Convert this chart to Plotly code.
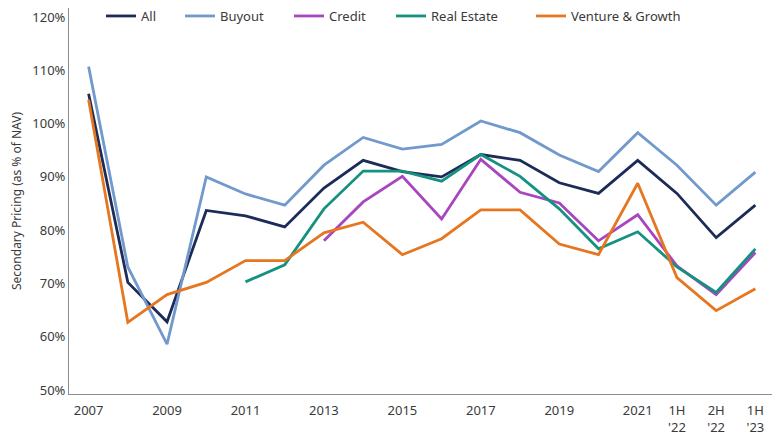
import plotly.graph_objects as go

periods = ["2007", "2008", "2009", "2010", "2011", "2012", "2013", "2014", "2015",
           "2016", "2017", "2018", "2019", "2020", "2021", "1H '22", "2H '22", "1H '23"]

all_vals = [105.6, 70.2, 62.8, 83.7, 82.7, 80.6, 87.9, 93.1, 91.0,
            90.0, 94.2, 93.1, 88.9, 86.9, 93.1, 86.9, 78.6, 84.7]
buyout = [110.7, 73.1, 58.6, 90.0, 86.8, 84.7, 92.2, 97.4, 95.2,
          96.1, 100.5, 98.3, 94.1, 91.0, 98.3, 92.2, 84.7, 90.9]
credit = [None, None, None, None, None, None, 78.0, 85.3, 90.1,
          82.1, 93.3, 87.1, 85.1, 78.0, 82.9, 73.3, 67.9, 75.8]
real_estate = [None, None, None, None, 70.3, 73.5, 84.0, 91.1, 91.1,
               89.2, 94.2, 90.1, 84.0, 76.5, 79.7, 73.1, 68.3, 76.5]
venture = [104.5, 62.7, 67.9, 70.2, 74.3, 74.3, 79.5, 81.5, 75.4,
           78.4, 83.8, 83.8, 77.4, 75.4, 88.8, 71.1, 64.9, 69.0]

tick_cats = ["2007", "2009", "2011", "2013", "2015", "2017", "2019", "2021",
             "1H '22", "2H '22", "1H '23"]
tick_text = ["2007", "2009", "2011", "2013", "2015", "2017", "2019", "2021",
             "1H<br>'22", "2H<br>'22", "1H<br>'23"]
y_ticks = [50, 60, 70, 80, 90, 100, 110, 120]

series = [
    ("All", all_vals, "#1c2b57"),
    ("Buyout", buyout, "#7199cb"),
    ("Credit", credit, "#a845c1"),
    ("Real Estate", real_estate, "#14917f"),
    ("Venture & Growth", venture, "#e6761f"),
]
legend_ids = ["legend", "legend2", "legend3", "legend4", "legend5"]
legend_x_px = [107, 186, 295, 397, 537]

OFF = 8  # page body margin
L, R, T, B = 69 - OFF, 13, 0, 54
W, H = 780, 440
pw = W - L - R
ph = H - T - B

fig = go.Figure()
for (name, vals, color), lid in zip(series, legend_ids):
    fig.add_trace(go.Scatter(
        x=periods, y=[v / 100 if v is not None else None for v in vals],
        mode="lines", name=name, legend=lid,
        line=dict(color=color, width=2.8),
        connectgaps=False,
    ))

layout_legends = {}
for lid, px in zip(legend_ids, legend_x_px):
    layout_legends[lid] = dict(
        orientation="h", x=(px - OFF - L - 6) / pw, y=1 - (16 - OFF - T) / ph,
        xanchor="left", yanchor="middle",
        font=dict(size=13), bgcolor="rgba(0,0,0,0)", itemwidth=30,
    )

fig.update_layout(
    width=W, height=H,
    margin=dict(l=L, r=R, t=T, b=B, autoexpand=False),
    plot_bgcolor="white", paper_bgcolor="white",
    font=dict(family="Noto Sans, sans-serif", size=13, color="#3a3a3a"),
    showlegend=True,
    **layout_legends,
)
fig.update_xaxes(
    type="category", categoryorder="array", categoryarray=periods,
    range=[-0.5, 17.5], automargin=False, ticklabelstandoff=4,
    tickmode="array", tickvals=tick_cats, ticktext=tick_text,
    showline=True, linecolor="#8c8c8c", linewidth=1,
    showgrid=False, ticks="", tickfont=dict(size=13),
)
fig.update_yaxes(
    range=[0.4925, 1.217], automargin=False, ticklabeloverflow="allow",
    tickmode="array", tickvals=[v / 100 for v in y_ticks], tickformat=".0%",
    showline=True, linecolor="#8c8c8c", linewidth=1,
    showgrid=False, zeroline=False, ticks="", tickfont=dict(size=13),
    title=dict(text="Secondary Pricing (as % of NAV)", font=dict(size=12), standoff=13),
)

fig.write_html("out.html")
